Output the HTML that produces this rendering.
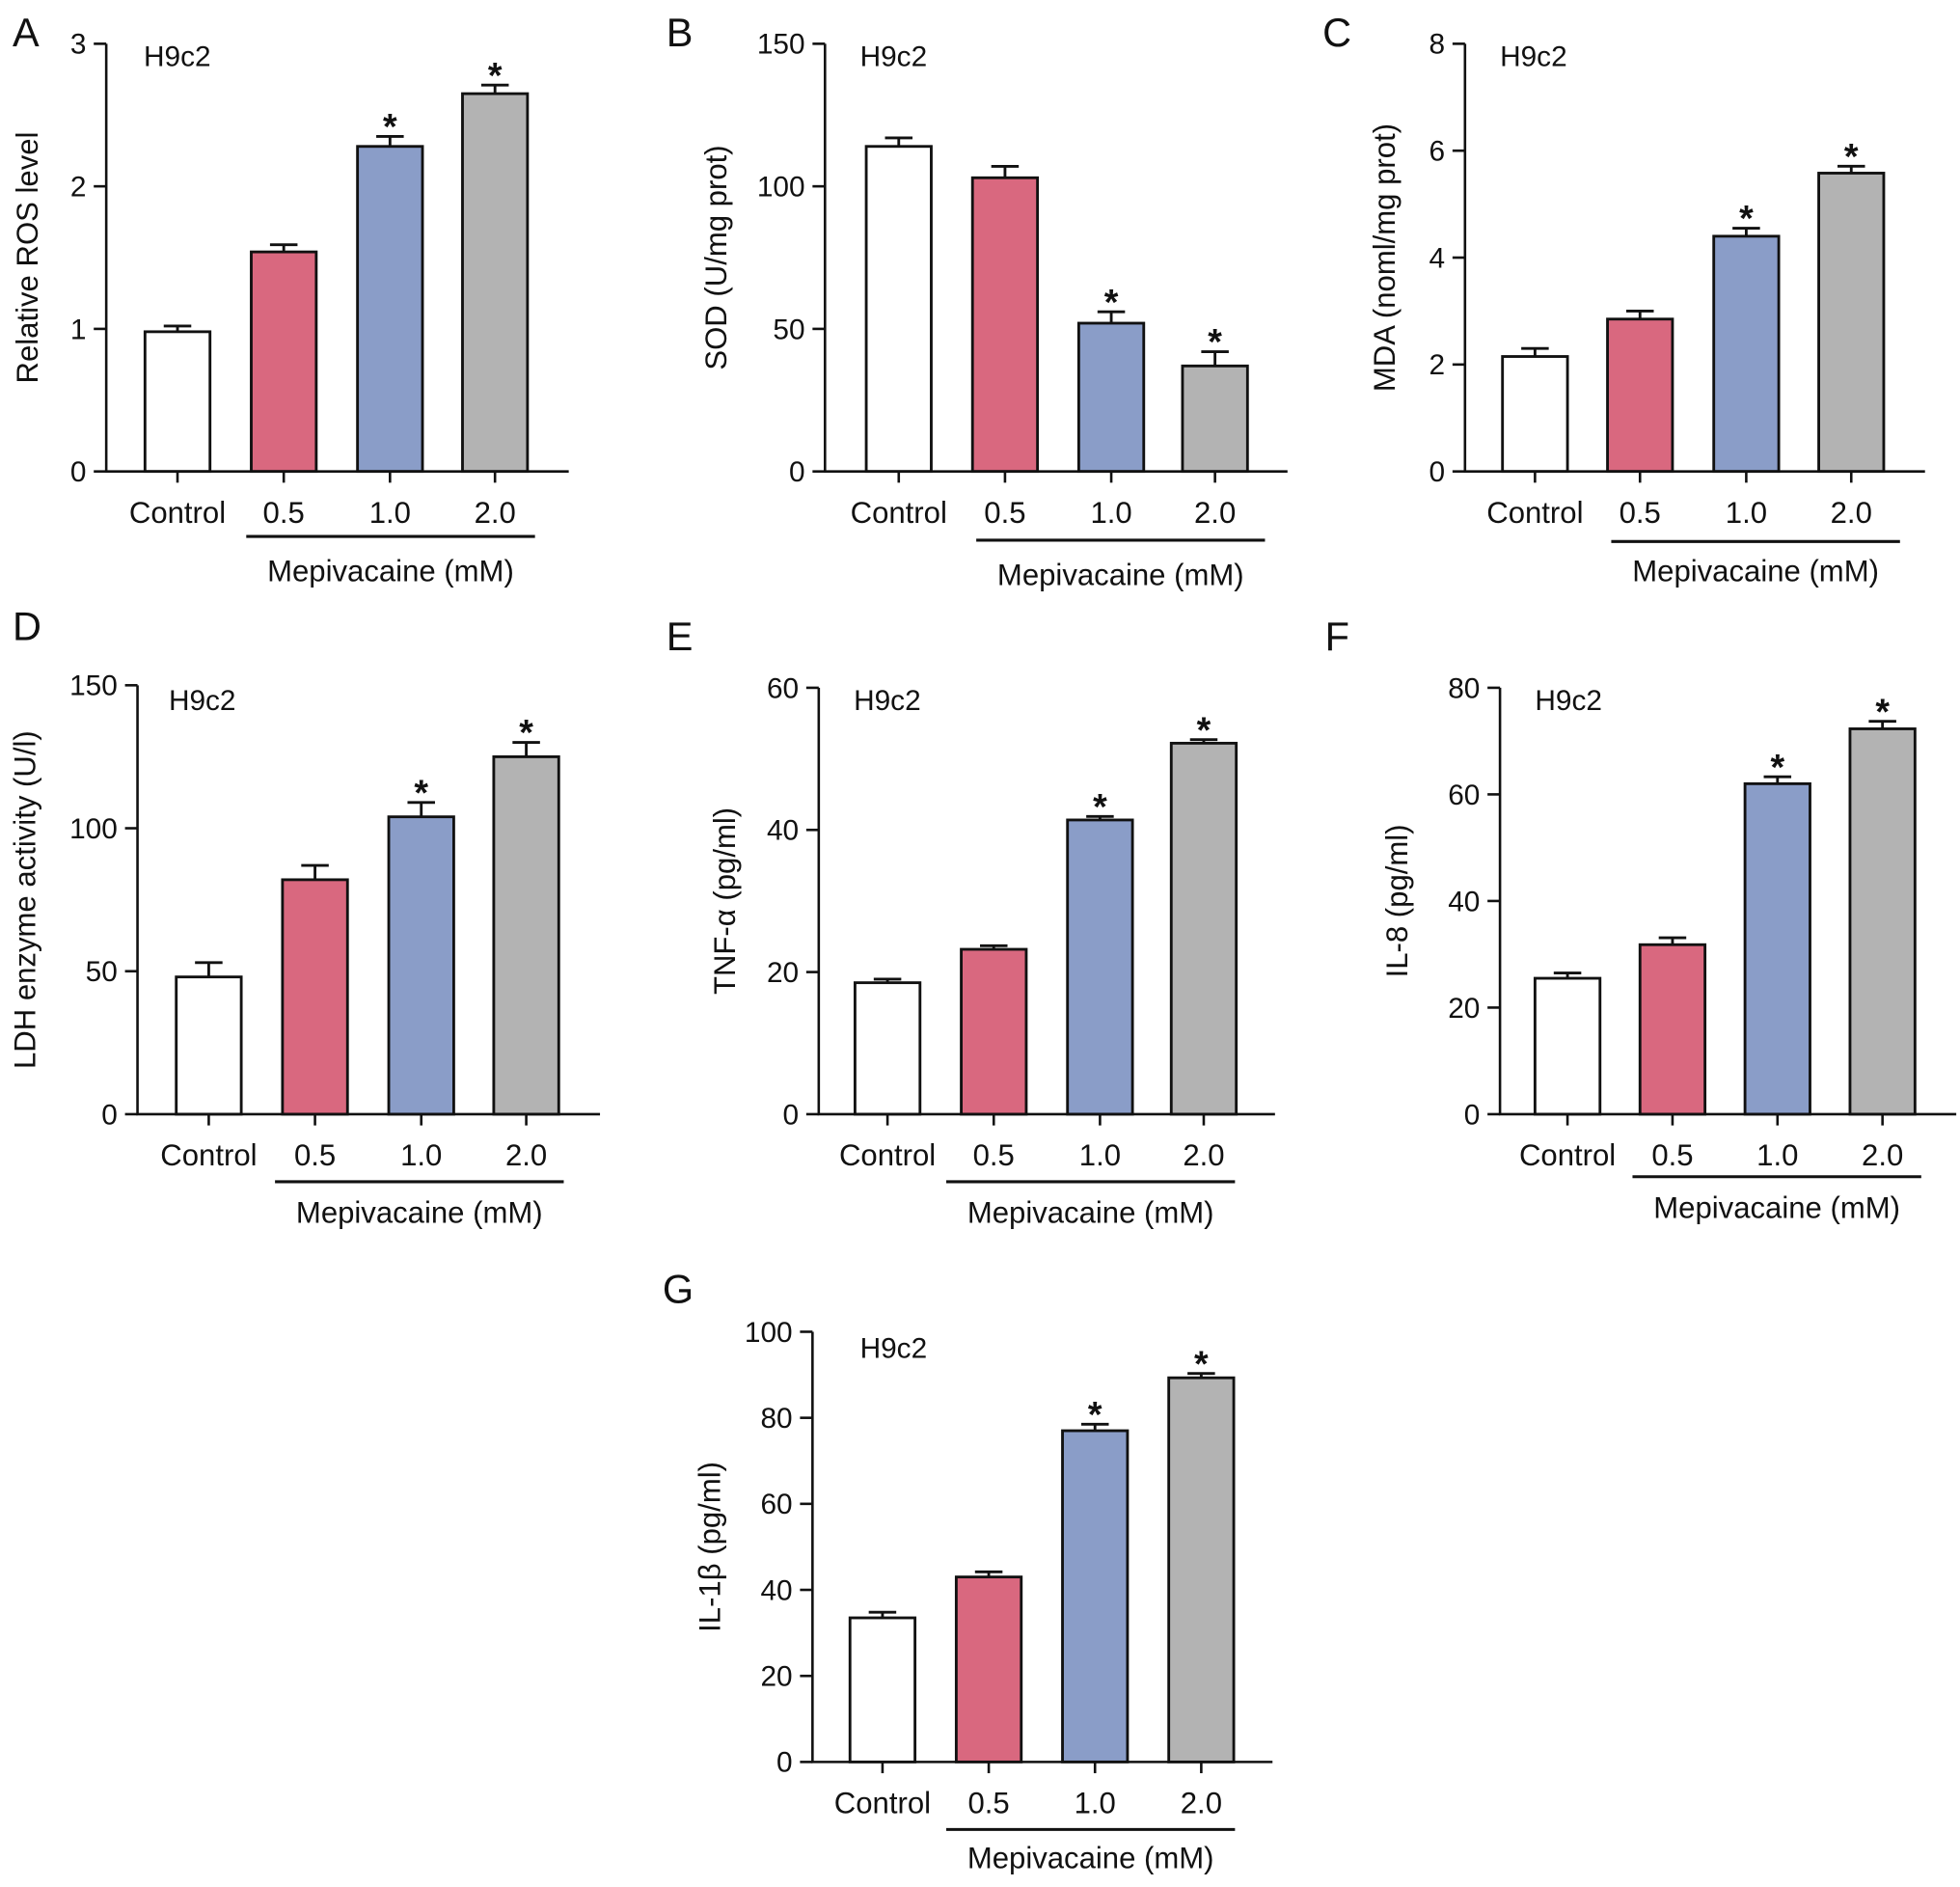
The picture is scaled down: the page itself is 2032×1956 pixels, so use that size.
<!DOCTYPE html>
<html><head><meta charset="utf-8">
<style>
html,body{margin:0;padding:0;background:#fff;}
svg{display:block;}
text{font-family:"Liberation Sans",Arial,sans-serif;fill:#111;}
</style></head>
<body>
<svg id="fig" width="2032" height="1956" viewBox="0 0 1568 1509" preserveAspectRatio="none" xmlns="http://www.w3.org/2000/svg"></svg>
<script>
const categories = ["Control","0.5","1.0","2.0"];
const colors = ["#ffffff","#d9687f","#8a9dc8","#b3b3b3"];
const valuesA = [0.98,1.54,2.28,2.65], errA = [0.04,0.05,0.07,0.06];
const valuesB = [114,103,52,37], errB = [3,4,4,5];
const valuesC = [2.15,2.85,4.4,5.58], errC = [0.15,0.15,0.15,0.13];
const valuesD = [48,82,104,125], errD = [5,5,5,5];
const valuesE = [18.5,23.2,41.4,52.2], errE = [0.5,0.5,0.5,0.5];
const valuesF = [25.5,31.8,62,72.3], errF = [1,1.3,1.3,1.4];
const valuesG = [33.5,43,77,89.3], errG = [1.3,1.2,1.5,1];
const ticksA=[0,1,2,3], ticksB=[0,50,100,150], ticksC=[0,2,4,6,8], ticksD=[0,50,100,150];
const ticksE=[0,20,40,60], ticksF=[0,20,40,60,80], ticksG=[0,20,40,60,80,100];
const starsAll=[false,false,true,true];

const panels=[
 {id:"A",vals:valuesA,err:errA,ticks:ticksA,ax:85,y0:377,yt:35,xEnd:455,cx:[142,227,312,396],ul:[197,428,429],ml:457,h9:[115,45],lt:[10,35],yx:22,title:"Relative ROS level"},
 {id:"B",vals:valuesB,err:errB,ticks:ticksB,ax:660,y0:377,yt:35,xEnd:1030,cx:[719,804,889,972],ul:[781,1012,432],ml:460,h9:[688,45],lt:[533,35],yx:573,title:"SOD (U/mg prot)"},
 {id:"C",vals:valuesC,err:errC,ticks:ticksC,ax:1172,y0:377,yt:35,xEnd:1540,cx:[1228,1312,1397,1481],ul:[1289,1520,433],ml:457,h9:[1200,45],lt:[1058,35],yx:1108,title:"MDA (noml/mg prot)"},
 {id:"D",vals:valuesD,err:errD,ticks:ticksD,ax:110,y0:891,yt:548,xEnd:480,cx:[167,252,337,421],ul:[220,451,945],ml:970,h9:[135,560],lt:[10,510],yx:20,title:"LDH enzyme activity (U/l)"},
 {id:"E",vals:valuesE,err:errE,ticks:ticksE,ax:655,y0:891,yt:550,xEnd:1020,cx:[710,795,880,963],ul:[757,988,945],ml:970,h9:[683,560],lt:[533,518],yx:580,title:"TNF-α (pg/ml)"},
 {id:"F",vals:valuesF,err:errF,ticks:ticksF,ax:1200,y0:891,yt:550,xEnd:1565,cx:[1254,1338,1422,1506],ul:[1306,1537,941],ml:966,h9:[1228,560],lt:[1060,518],yx:1118,title:"IL-8 (pg/ml)"},
 {id:"G",vals:valuesG,err:errG,ticks:ticksG,ax:650,y0:1409,yt:1065,xEnd:1018,cx:[706,791,876,961],ul:[757,988,1463],ml:1486,h9:[688,1078],lt:[530,1040],yx:568,title:"IL-1β (pg/ml)"}
];
const NS="http://www.w3.org/2000/svg";
const svg=document.getElementById("fig");
function el(tag,attrs,parent,txt){const e=document.createElementNS(NS,tag);for(const k in attrs)e.setAttribute(k,attrs[k]);if(txt!==undefined)e.textContent=txt;(parent||svg).appendChild(e);return e;}
const BW=52;
panels.forEach(p=>{
  const g=el("g",{});
  
  
  const max=p.ticks[p.ticks.length-1];
  const y=v=>p.y0-(v/max)*(p.y0-p.yt);
  p.vals.forEach((v,i)=>{
    const top=y(v),bot=y(v+p.err[i]);
    const eb=el("path",{d:`M${p.cx[i]} ${top}V${bot}M${p.cx[i]-11} ${bot}H${p.cx[i]+11}`,stroke:"#111","stroke-width":2.2,fill:"none"},g);
    
    
    const r=el("rect",{x:p.cx[i]-BW/2,y:top,width:BW,height:p.y0-top,fill:colors[i],stroke:"#111","stroke-width":2.2},g);
    
    
    if(starsAll[i]){const s=el("text",{x:p.cx[i],y:bot+2,"text-anchor":"middle","font-size":29,"font-weight":"bold"},g,"*");
      
      }
    const t=el("text",{x:p.cx[i],y:p.y0+41,"text-anchor":"middle","font-size":24},g,categories[i]);
    
    
    const tk=el("line",{x1:p.cx[i],x2:p.cx[i],y1:p.y0,y2:p.y0+9,stroke:"#111","stroke-width":2},g);
    
    
  });
  const ax=el("path",{d:`M${p.ax} ${p.yt}V${p.y0}H${p.xEnd}`,stroke:"#111","stroke-width":2,fill:"none"},g);
  
  
  p.ticks.forEach(t=>{
    const yy=y(t);
    const l=el("line",{x1:p.ax-10,x2:p.ax,y1:yy,y2:yy,stroke:"#111","stroke-width":2},g);
    
    
    const tx=el("text",{x:p.ax-16,y:yy+8,"text-anchor":"end","font-size":23},g,String(t));
    
    
  });
  const cy=(p.y0+p.yt)/2;
  const yt=el("text",{x:p.yx,y:cy,"text-anchor":"middle","font-size":24,transform:`rotate(-90 ${p.yx} ${cy}) translate(0 8)`},g,p.title);
  
  
  const ul=el("line",{x1:p.ul[0],x2:p.ul[1],y1:p.ul[2],y2:p.ul[2],stroke:"#111","stroke-width":2.4},g);
  
  
  const ml=el("text",{x:(p.ul[0]+p.ul[1])/2,y:p.ml+8,"text-anchor":"middle","font-size":24},g,"Mepivacaine (mM)");
  
  
  const h=el("text",{x:p.h9[0],y:p.h9[1]+8,"font-size":23},g,"H9c2");
  
  
  const lt=el("text",{x:p.lt[0],y:p.lt[1]+2,"font-size":32},g,p.id);
  
  
});
</script>
</body></html>
